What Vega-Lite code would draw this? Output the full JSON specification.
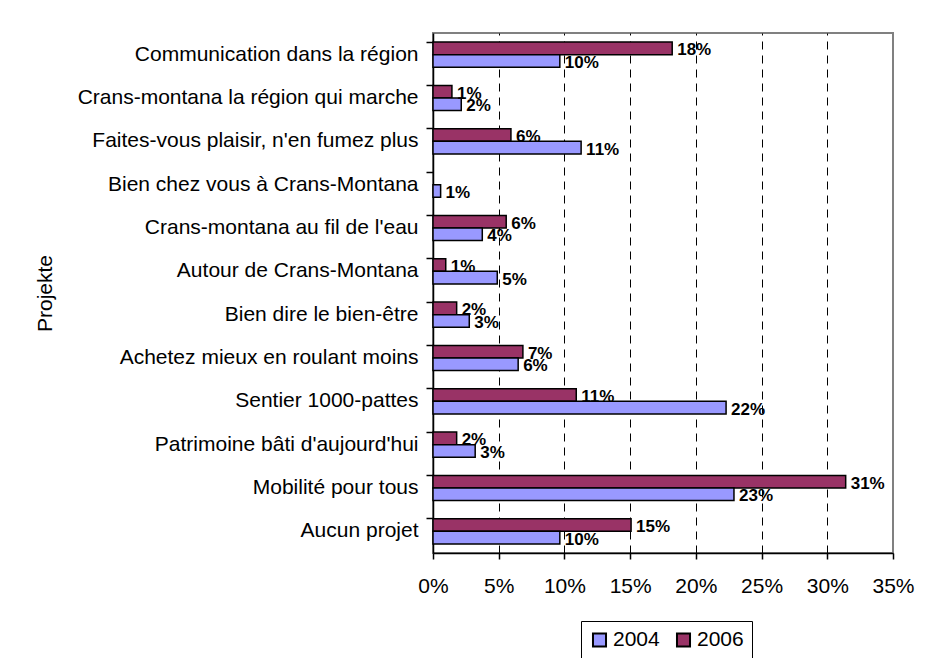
{
  "$schema": "https://vega.github.io/schema/vega-lite/v6.json",
  "width": 460,
  "height": 520,
  "padding": {"left": 34, "top": 33, "right": 5, "bottom": 5},
  "background": "white",
  "config": {
    "font": "Liberation Sans",
    "view": {"stroke": "#808080", "strokeWidth": 2}
  },
  "data": {
    "values": [
      {"projekt": "Communication dans la région", "jahr": "2006", "anteil": 0.182},
      {"projekt": "Communication dans la région", "jahr": "2004", "anteil": 0.0965},
      {"projekt": "Crans-montana la région qui marche", "jahr": "2006", "anteil": 0.0144},
      {"projekt": "Crans-montana la région qui marche", "jahr": "2004", "anteil": 0.0215},
      {"projekt": "Faites-vous plaisir, n'en fumez plus", "jahr": "2006", "anteil": 0.0593},
      {"projekt": "Faites-vous plaisir, n'en fumez plus", "jahr": "2004", "anteil": 0.1127},
      {"projekt": "Bien chez vous à Crans-Montana", "jahr": "2004", "anteil": 0.0058},
      {"projekt": "Crans-montana au fil de l'eau", "jahr": "2006", "anteil": 0.0557},
      {"projekt": "Crans-montana au fil de l'eau", "jahr": "2004", "anteil": 0.0375},
      {"projekt": "Autour de Crans-Montana", "jahr": "2006", "anteil": 0.0097},
      {"projekt": "Autour de Crans-Montana", "jahr": "2004", "anteil": 0.0489},
      {"projekt": "Bien dire le bien-être", "jahr": "2006", "anteil": 0.018},
      {"projekt": "Bien dire le bien-être", "jahr": "2004", "anteil": 0.0276},
      {"projekt": "Achetez mieux en roulant moins", "jahr": "2006", "anteil": 0.0684},
      {"projekt": "Achetez mieux en roulant moins", "jahr": "2004", "anteil": 0.0648},
      {"projekt": "Sentier 1000-pattes", "jahr": "2006", "anteil": 0.109},
      {"projekt": "Sentier 1000-pattes", "jahr": "2004", "anteil": 0.223},
      {"projekt": "Patrimoine bâti d'aujourd'hui", "jahr": "2006", "anteil": 0.018},
      {"projekt": "Patrimoine bâti d'aujourd'hui", "jahr": "2004", "anteil": 0.0321},
      {"projekt": "Mobilité pour tous", "jahr": "2006", "anteil": 0.314},
      {"projekt": "Mobilité pour tous", "jahr": "2004", "anteil": 0.229},
      {"projekt": "Aucun projet", "jahr": "2006", "anteil": 0.1507},
      {"projekt": "Aucun projet", "jahr": "2004", "anteil": 0.0965}
    ]
  },
  "encoding": {
    "y": {
      "field": "projekt",
      "type": "nominal",
      "sort": null,
      "scale": {"paddingInner": 0.42, "paddingOuter": 0.21},
      "axis": {
        "title": "Projekte",
        "titleFontSize": 21,
        "titleFontWeight": "normal",
        "titleColor": "black",
        "titleX": -378,
        "titleY": 260,
        "labelFontSize": 21,
        "labelColor": "black",
        "labelPadding": 8,
        "labelLimit": 600,
        "tickSize": 7,
        "tickColor": "black",
        "tickWidth": 1.5,
        "domainColor": "black",
        "domainWidth": 1.5,
        "bandPosition": 0,
        "grid": false
      }
    },
    "yOffset": {"field": "jahr", "type": "nominal", "sort": ["2006", "2004"]},
    "x": {
      "field": "anteil",
      "type": "quantitative",
      "scale": {"domain": [0, 0.35], "nice": false},
      "axis": {
        "title": null,
        "format": "%",
        "values": [0, 0.05, 0.1, 0.15, 0.2, 0.25, 0.3, 0.35],
        "labelFontSize": 21,
        "labelColor": "black",
        "labelFlush": false,
        "labelOverlap": false,
        "labelPadding": 16,
        "tickSize": 6,
        "tickColor": "black",
        "tickWidth": 1.5,
        "domainColor": "black",
        "domainWidth": 1.5,
        "grid": true,
        "gridColor": "black",
        "gridDash": [8, 6],
        "gridWidth": 1,
        "gridOpacity": {"condition": {"test": "datum.value <= 0 || datum.value >= 0.35", "value": 0}, "value": 1}
      }
    }
  },
  "layer": [
    {
      "mark": {"type": "bar", "stroke": "black", "strokeWidth": 1.5},
      "encoding": {
        "color": {
          "field": "jahr",
          "type": "nominal",
          "scale": {"domain": ["2004", "2006"], "range": ["#9999FF", "#993366"]},
          "legend": {
            "orient": "none",
            "legendX": 148,
            "legendY": 588,
            "direction": "horizontal",
            "title": null,
            "strokeColor": "black",
            "padding": 8,
            "symbolType": "square",
            "symbolSize": 170,
            "symbolStrokeColor": "black",
            "symbolStrokeWidth": 2,
            "labelFontSize": 21,
            "labelColor": "black",
            "labelOffset": 3,
            "columnPadding": 12
          }
        }
      }
    },
    {
      "mark": {"type": "text", "align": "left", "baseline": "middle", "dx": 5, "dy": 2, "fontWeight": "bold", "fontSize": 17, "color": "black"},
      "encoding": {
        "text": {"field": "anteil", "type": "quantitative", "format": ".0%"}
      }
    }
  ]
}
